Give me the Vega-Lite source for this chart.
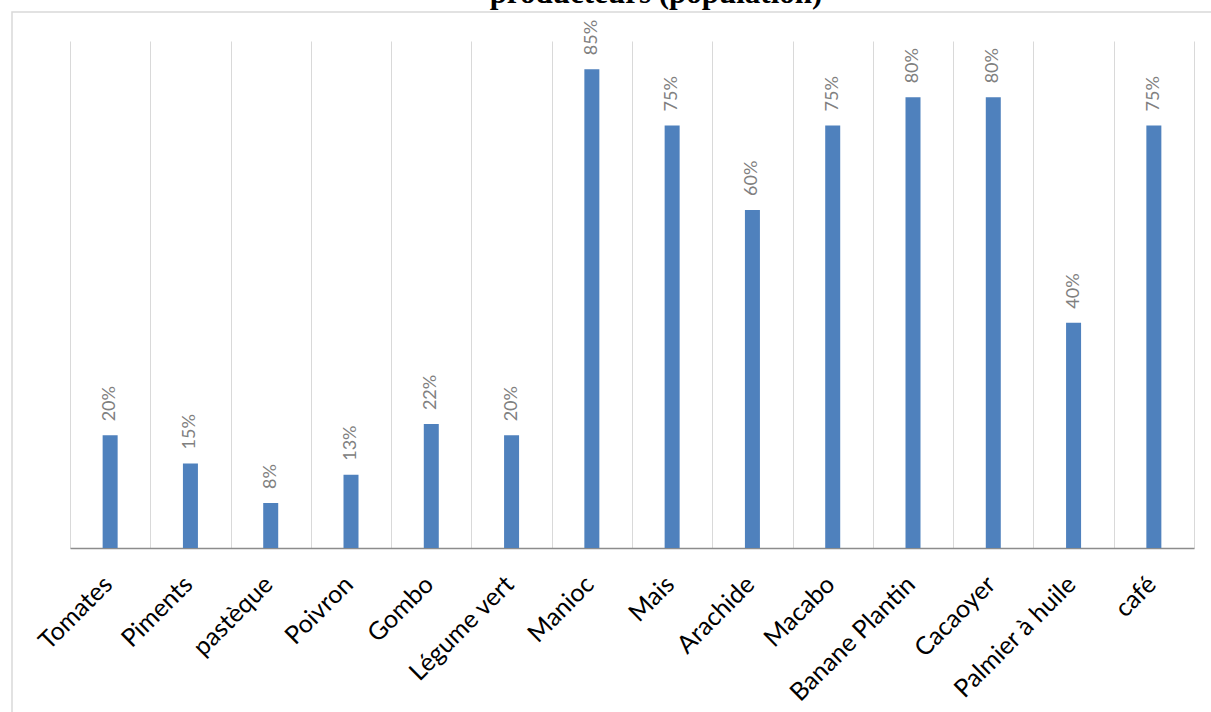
{
  "$schema": "https://vega.github.io/schema/vega-lite/v6.json",
  "width": 1220,
  "height": 710,
  "autosize": {"type": "none"},
  "padding": {"left": 12, "top": 12, "right": 0, "bottom": 0},
  "background": "white",
  "title": {
    "text": "producteurs (population)",
    "font": "Liberation Serif",
    "fontSize": 31,
    "fontWeight": "bold",
    "color": "black",
    "anchor": "middle",
    "dx": 34,
    "offset": 2
  },
  "data": {
    "values": [
      {"crop": "Tomates", "share": 0.20},
      {"crop": "Piments", "share": 0.15},
      {"crop": "pastèque", "share": 0.08},
      {"crop": "Poivron", "share": 0.13},
      {"crop": "Gombo", "share": 0.22},
      {"crop": "Légume vert", "share": 0.20},
      {"crop": "Manioc", "share": 0.85},
      {"crop": "Mais", "share": 0.75},
      {"crop": "Arachide", "share": 0.60},
      {"crop": "Macabo", "share": 0.75},
      {"crop": "Banane Plantin", "share": 0.80},
      {"crop": "Cacaoyer", "share": 0.80},
      {"crop": "Palmier à huile", "share": 0.40},
      {"crop": "café", "share": 0.75}
    ]
  },
  "resolve": {"axis": {"x": "independent"}},
  "layer": [
    {
      "mark": {"type": "bar", "color": "#4F81BD", "size": 15},
      "encoding": {
        "x": {
          "field": "crop",
          "type": "nominal",
          "sort": null,
          "scale": {"range": [58, 1182], "paddingInner": 0, "paddingOuter": 0},
          "axis": {
            "orient": "top",
            "title": null,
            "labels": false,
            "ticks": false,
            "domain": false,
            "tickBand": "extent",
            "grid": true,
            "gridColor": "#D9D9D9",
            "gridWidth": 1
          }
        },
        "y": {
          "field": "share",
          "type": "quantitative",
          "scale": {"domain": [0, 0.9], "range": [536, 29], "nice": false, "zero": true},
          "axis": null
        }
      }
    },
    {
      "mark": {"type": "text", "angle": -90, "align": "left", "baseline": "middle", "dx": 14, "color": "#808080", "font": "Lato", "fontSize": 18},
      "encoding": {
        "x": {
          "field": "crop",
          "type": "nominal",
          "sort": null,
          "axis": {
            "orient": "bottom",
            "title": null,
            "offset": -174,
            "ticks": false,
            "grid": false,
            "domainColor": "#8C8C8C",
            "domainWidth": 1.5,
            "labelAngle": -45,
            "labelAlign": "right",
            "labelBaseline": "middle",
            "labelFont": "Lato",
            "labelFontSize": 25,
            "labelColor": "#000000",
            "labelPadding": 32,
            "labelOffset": -2
          }
        },
        "y": {"field": "share", "type": "quantitative"},
        "text": {"field": "share", "type": "quantitative", "format": ".0%"}
      }
    }
  ],
  "config": {"view": {"stroke": "#D9D9D9", "strokeWidth": 1.5}}
}
